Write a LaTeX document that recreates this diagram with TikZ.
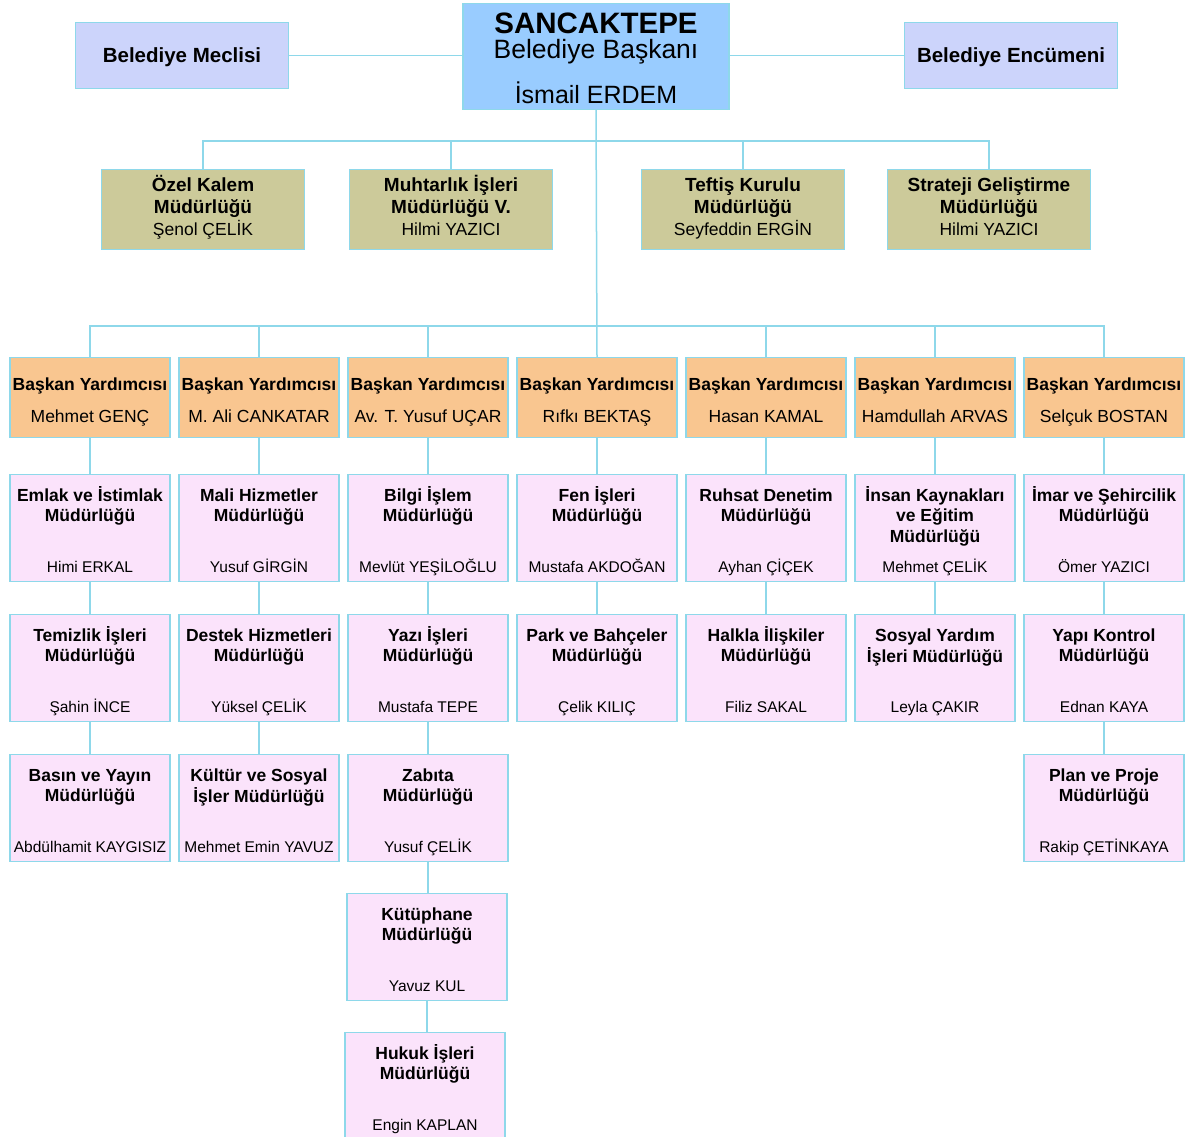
\documentclass[tikz,border=0pt]{standalone}
\usepackage{fontspec}
\usepackage{graphicx}
\setmainfont{Liberation Sans}
\definecolor{hat}{HTML}{8ED8EA}
\definecolor{baskanmavi}{HTML}{99CCFF}
\definecolor{meclismor}{HTML}{CCD4FB}
\definecolor{zeytin}{HTML}{CCCA9A}
\definecolor{turuncu}{HTML}{F9C690}
\definecolor{pembe}{HTML}{FBE3FB}
\tikzset{
  kutu/.style={draw=hat, line width=1.2pt, anchor=north, inner sep=0pt},
  ustkutu/.style={kutu, fill=meclismor, minimum width=213pt, minimum height=66pt},
  ozelkutu/.style={kutu, fill=zeytin, minimum width=203pt, minimum height=80pt},
  yrdkutu/.style={kutu, fill=turuncu, minimum width=160pt, minimum height=80pt},
  mkutu/.style={kutu, fill=pembe, minimum width=160pt, minimum height=107pt},
  yazi/.style={anchor=base, inner sep=0pt},
  mbaslik/.style={yazi, font=\fontsize{17.5}{20.5}\selectfont\bfseries},
  mad/.style={yazi, font=\fontsize{15.5}{18}\selectfont},
  hat cizgi/.style={draw=hat, line width=1.5pt}
}
\newcommand\mudurluk[5]{%
  \node[mkutu] (#1) at (#2,#3) {};
  \node[mbaslik] (#1t) at ([yshift=-27pt]#1.north) {\begin{tabular}[t]{@{}c@{}}#4\end{tabular}};
  \node[mad] (#1n) at ([yshift=-98pt]#1.north) {#5};
}
\begin{document}
\begin{tikzpicture}[x=1pt,y=-1pt]
\path[fill=white, use as bounding box] (0,0) rectangle (1188,1137);
% ust sira
\node[kutu, fill=baskanmavi, minimum width=266pt, minimum height=106pt] (baskan) at (596,3) {};
\node[yazi, font=\fontsize{29.5}{32}\selectfont\bfseries] (bt1) at ([yshift=-31pt]baskan.north) {SANCAKTEPE};
\node[yazi, font=\fontsize{26.5}{29}\selectfont] (bt2) at ([yshift=-56pt]baskan.north) {Belediye Başkanı};
\node[yazi, font=\fontsize{25}{27}\selectfont] (bt3) at ([yshift=-101pt]baskan.north) {İsmail ERDEM};
\node[ustkutu] (meclis) at (182,22) {};
\node[yazi, font=\fontsize{20.5}{22}\selectfont\bfseries] (meclist) at ([yshift=-41pt]meclis.north) {Belediye Meclisi};
\node[ustkutu] (encumen) at (1011,22) {};
\node[yazi, font=\fontsize{20.5}{22}\selectfont\bfseries] (encument) at ([yshift=-41pt]encumen.north) {Belediye Encümeni};
\draw[hat cizgi] (meclis.east) -- (meclis.east -| baskan.west);
\draw[hat cizgi] (encumen.west -| baskan.east) -- (encumen.west);
% ozel birimler
\foreach \k/\x/\a/\b/\ad in {ozel/203/Özel Kalem/Müdürlüğü/Şenol ÇELİK,
  muhtar/451/Muhtarlık İşleri/Müdürlüğü V./Hilmi YAZICI,
  teftis/743/Teftiş Kurulu/Müdürlüğü/Seyfeddin ERGİN,
  strateji/989/Strateji Geliştirme/Müdürlüğü/Hilmi YAZICI}
{
  \node[ozelkutu] (\k) at (\x,169) {};
  \node[yazi, font=\fontsize{19}{22}\selectfont\bfseries] (\k t) at ([yshift=-22pt]\k.north)
    {\begin{tabular}[t]{@{}c@{}}\a\\\b\end{tabular}};
  \node[yazi, font=\fontsize{17.5}{20}\selectfont] (\k n) at ([yshift=-66pt]\k.north) {\ad};
}
\coordinate (bus1) at (597,141);
\draw[hat cizgi] (ozel.north) |- (bus1) -| (strateji.north);
\draw[hat cizgi] (muhtar.north) -- (muhtar.north |- bus1);
\draw[hat cizgi] (teftis.north) -- (teftis.north |- bus1);
% baskan yardimcilari
\foreach \i/\ad in {1/Mehmet GENÇ, 2/M. Ali CANKATAR, 3/Av. T. Yusuf UÇAR, 4/Rıfkı BEKTAŞ,
  5/Hasan KAMAL, 6/Hamdullah ARVAS, 7/Selçuk BOSTAN}
{
  \node[yrdkutu] (v\i) at ({90+169*(\i-1)},357) {};
  \node[mbaslik] (vt\i) at ([yshift=-33pt]v\i.north) {Başkan Yardımcısı};
  \node[yazi, font=\fontsize{17.5}{20}\selectfont] (vn\i) at ([yshift=-65pt]v\i.north) {\ad};
}
\coordinate (bus2) at (597,326);
\draw[hat cizgi] (baskan.south) -- (v4.north);
\draw[hat cizgi] (v1.north) |- (bus2) -| (v7.north);
\foreach \i in {2,3,5,6}
  \draw[hat cizgi] (v\i.north) -- (v\i.north |- bus2);
% mudurlukler
\mudurluk{m11}{90}{474}{Emlak ve İstimlak\\Müdürlüğü}{Himi ERKAL}
\mudurluk{m12}{90}{614}{Temizlik İşleri\\Müdürlüğü}{Şahin İNCE}
\mudurluk{m13}{90}{754}{Basın ve Yayın\\Müdürlüğü}{Abdülhamit KAYGISIZ}
\mudurluk{m21}{259}{474}{Mali Hizmetler\\Müdürlüğü}{Yusuf GİRGİN}
\mudurluk{m22}{259}{614}{Destek Hizmetleri\\Müdürlüğü}{Yüksel ÇELİK}
\mudurluk{m23}{259}{754}{Kültür ve Sosyal\\İşler Müdürlüğü}{Mehmet Emin YAVUZ}
\mudurluk{m31}{428}{474}{Bilgi İşlem\\Müdürlüğü}{Mevlüt YEŞİLOĞLU}
\mudurluk{m32}{428}{614}{Yazı İşleri\\Müdürlüğü}{Mustafa TEPE}
\mudurluk{m33}{428}{754}{Zabıta\\Müdürlüğü}{Yusuf ÇELİK}
\mudurluk{m34}{427}{893}{Kütüphane\\Müdürlüğü}{Yavuz KUL}
\mudurluk{m35}{425}{1032}{Hukuk İşleri\\Müdürlüğü}{Engin KAPLAN}
\mudurluk{m41}{597}{474}{Fen İşleri\\Müdürlüğü}{Mustafa AKDOĞAN}
\mudurluk{m42}{597}{614}{Park ve Bahçeler\\Müdürlüğü}{Çelik KILIÇ}
\mudurluk{m51}{766}{474}{Ruhsat Denetim\\Müdürlüğü}{Ayhan ÇİÇEK}
\mudurluk{m52}{766}{614}{Halkla İlişkiler\\Müdürlüğü}{Filiz SAKAL}
\mudurluk{m61}{935}{474}{İnsan Kaynakları\\ve Eğitim\\Müdürlüğü}{Mehmet ÇELİK}
\mudurluk{m62}{935}{614}{Sosyal Yardım\\İşleri Müdürlüğü}{Leyla ÇAKIR}
\mudurluk{m71}{1104}{474}{İmar ve Şehircilik\\Müdürlüğü}{Ömer YAZICI}
\mudurluk{m72}{1104}{614}{Yapı Kontrol\\Müdürlüğü}{Ednan KAYA}
\mudurluk{m73}{1104}{754}{Plan ve Proje\\Müdürlüğü}{Rakip ÇETİNKAYA}
\foreach \i in {1,...,7}
  \draw[hat cizgi] (v\i.south) -- (m\i1.north);
\foreach \a/\b in {m11/m12, m12/m13, m21/m22, m22/m23, m31/m32, m32/m33, m33/m34, m34/m35,
  m41/m42, m51/m52, m61/m62, m71/m72, m72/m73}
  \draw[hat cizgi] (\a.south) -- (\a.south |- \b.north);
\end{tikzpicture}
\end{document}
